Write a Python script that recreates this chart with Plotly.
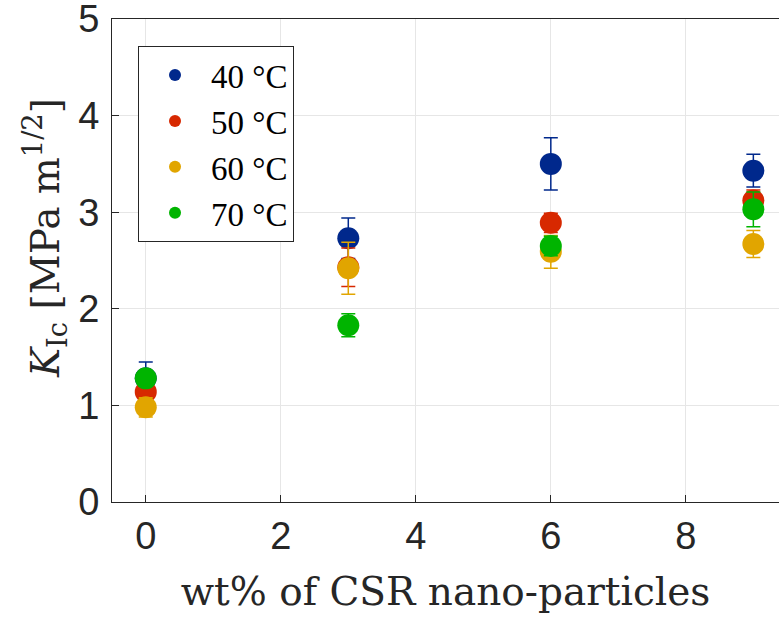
import plotly.graph_objects as go

wt = [0, 3, 6, 9]
labels = ["40 °C", "50 °C", "60 °C", "70 °C"]
colors = ["rgb(0,40,140)", "rgb(215,40,0)", "rgb(225,165,0)", "rgb(0,180,0)"]
k40 = [1.28, 2.73, 3.50, 3.43]
e40 = [0.17, 0.21, 0.27, 0.17]
k50 = [1.14, 2.43, 2.89, 3.12]
e50 = [0.12, 0.20, 0.10, 0.11]
k60 = [0.98, 2.42, 2.59, 2.67]
e60 = [0.10, 0.27, 0.17, 0.14]
k70 = [1.28, 1.83, 2.65, 3.03]
e70 = [0.08, 0.12, 0.10, 0.18]

series = [k40, k50, k60, k70]
errs = [e40, e50, e60, e70]

fig = go.Figure()
for lab, col, y, e in zip(labels, colors, series, errs):
    fig.add_trace(go.Scatter(
        x=wt, y=y, mode="markers", name=lab,
        marker=dict(color=col, size=22),
        error_y=dict(type="data", array=e, visible=True, color=col,
                     thickness=1.5, width=7),
    ))

axis_common = dict(
    showline=True, linecolor="#262626", linewidth=1, mirror=True,
    ticks="inside", ticklen=7, tickcolor="#262626",
    showgrid=True, gridcolor="#e6e6e6", gridwidth=1, zeroline=False,
    automargin=False, ticklabeloverflow="allow",
    tickfont=dict(family="Liberation Sans, Arial", size=38, color="#262626"),
)

fig.update_layout(
    width=779, height=621,
    margin=dict(l=112, r=0, t=19, b=119),
    paper_bgcolor="white", plot_bgcolor="white",
    xaxis=dict(range=[-0.5, 9.38], tickvals=[0, 2, 4, 6, 8],
               title=dict(text="wt% of CSR nano-particles",
                          font=dict(family="DejaVu Serif", size=39, color="#262626"),
                          standoff=22),
               **axis_common),
    yaxis=dict(range=[0, 5], tickvals=[0, 1, 2, 3, 4, 5], ticklabelstandoff=4,
               **axis_common),
    legend=dict(x=0.039, y=0.944, xanchor="left", yanchor="top",
                bgcolor="white", bordercolor="#262626", borderwidth=1,
                font=dict(family="Liberation Serif", size=33, color="black"),
                itemsizing="constant", itemwidth=62, tracegroupgap=0),
    showlegend=True,
    annotations=[dict(
        text="<i>K</i><sub>Ic</sub> [MPa m<sup>1/2</sup>]",
        xref="paper", yref="paper", x=-0.1, y=0.547,
        xanchor="center", yanchor="middle", textangle=-90, showarrow=False,
        font=dict(family="DejaVu Serif", size=39, color="#262626"),
    )],
)

fig.write_html("out.html", config={"displayModeBar": False},
               post_script="document.body.style.margin='0';document.body.style.overflow='hidden';")
